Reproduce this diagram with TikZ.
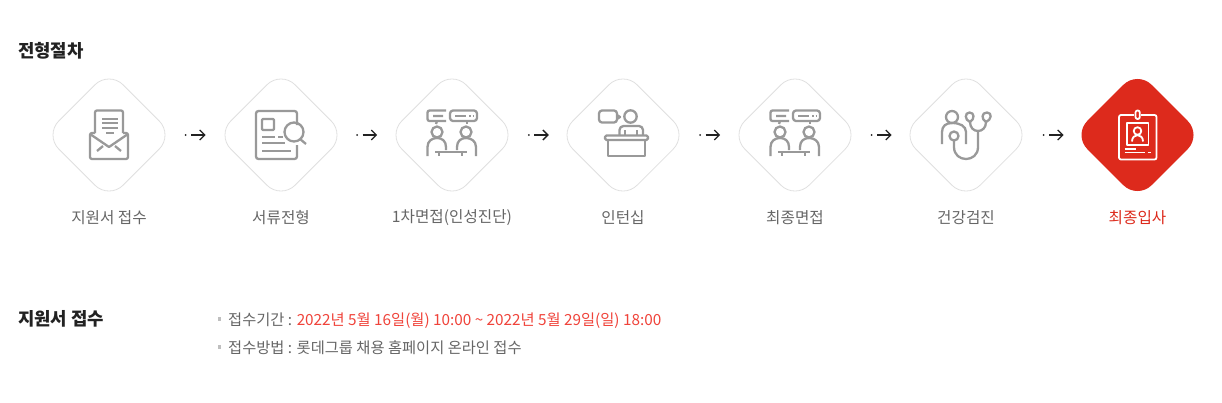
\documentclass[tikz,border=0pt]{standalone}
\usepackage{fontspec}
\setmainfont{Noto Sans CJK KR}
\usetikzlibrary{arrows.meta,calc}
\definecolor{icgray}{HTML}{999999}
\definecolor{lbl}{HTML}{666666}
\definecolor{ink}{HTML}{222222}
\definecolor{lotte}{HTML}{DD2A1C}
\definecolor{datered}{HTML}{F0433A}
\newcommand{\fs}[1]{\fontsize{#1}{#1}\selectfont}
\tikzset{
  x=1pt,y=-1pt,
  dia/.style={draw=#1,line width=0.8pt,rounded corners=20pt},
  ic/.style={draw=icgray,line width=2.3pt,line cap=butt,line join=round},
  icw/.style={draw=white,line width=1.8pt,line join=round},
  lab/.style={text=lbl,anchor=center,inner sep=0pt,font=\fs{15.65}},
  ttl/.style={text=ink,anchor=base west,inner sep=0pt,font=\fs{17.8}\bfseries},
  body/.style={anchor=base west,inner sep=0pt,font=\fs{15.3},text=lbl},
  arr/.style={draw=ink,line width=1.3pt,-{Straight Barb[length=5pt,width=10pt,line width=1.3pt]}},
  dotn/.style={circle,fill=ink,inner sep=0pt,minimum size=2pt},
  bul/.style={fill=black!25,inner sep=0pt,minimum size=3.5pt},
  pics/mail/.style={code={
    \draw[ic,rounded corners=2pt] (-14,-2) -- (-14,-24.5) -- (14,-24.5) -- (14,-2);
    \draw[ic] (-7,-16) -- (9,-16) (-7,-12) -- (9,-12) (-7,-7) -- (9,-7) (-3,-2) -- (5,-2);
    \draw[ic,rounded corners=2pt] (-14,-2) -- (-19,-2) -- (-19,24) -- (19,24) -- (19,-2) -- (14,-2);
    \draw[ic] (-19,-1) -- (0,12) -- (19,-1);
    \draw[ic] (-12,16) -- (-6,11) (12,16) -- (6,11);
  }},
  pics/doc/.style={code={
    \draw[ic,rounded corners=2.5pt] (16,-10) -- (16,-24) -- (-25,-24) -- (-25,24) -- (16,24) -- (16,10);
    \draw[ic,rounded corners=1pt] (-19,-16) rectangle (-7,-5);
    \draw[ic] (-19,2) -- (-6,2) (-3,2) -- (2,2) (-19,8) -- (4,8) (-19,16) -- (10,16);
    \draw[ic] (13,-3) circle[radius=9.5pt];
    \draw[ic] (19,4) -- (25,9);
  }},
  pics/talk/.style={code={
    \draw[ic,rounded corners=2pt] (-6,-24.5) -- (-24.5,-24.5) -- (-24.5,-14) -- (-6,-14);
    \draw[ic] (-19,-19) -- (-9,-19) (-15,-14) -- (-16,-11);
    \draw[ic,rounded corners=3pt] (-2,-24.5) rectangle (25,-14);
    \draw[ic] (3,-19) -- (14,-19) (17,-19) -- (18.5,-19) (20.5,-19) -- (22,-19) (15,-14) -- (15,-11);
    \draw[ic] (-15,-3) circle[radius=5.5pt] (14,-3) circle[radius=5.5pt];
    \draw[ic] (-24.5,21) -- (-24.5,12) .. controls (-24.5,6) and (-20,3) .. (-15,3) .. controls (-10,3) and (-6,6) .. (-6,12) -- (-6,15);
    \draw[ic] (24,21) -- (24,12) .. controls (24,6) and (19,3) .. (14,3) .. controls (9,3) and (5,6) .. (5,12) -- (5,15);
    \draw[ic] (-17,17) -- (15,17) (-13,17) -- (-13,21) (10,17) -- (10,21);
  }},
  pics/desk/.style={code={
    \draw[ic,rounded corners=3pt] (-24,-24.5) rectangle (-6,-12.5);
    \draw[ic] (-6,-20) -- (-3,-18) -- (-6,-16);
    \draw[ic] (7.5,-18.5) circle[radius=6.2pt];
    \draw[ic,rounded corners=4pt] (-3.5,0) -- (-3.5,-9) -- (20,-9) -- (20,0);
    \draw[ic] (2,-5) -- (2,0) (14,-5) -- (14,0);
    \draw[ic,rounded corners=1.5pt] (-18,0.5) rectangle (25,5);
    \draw[ic] (-15,5) -- (-15,21) -- (22,21) -- (22,5);
  }},
  pics/steth/.style={code={
    \draw[ic] (-14,-18) circle[radius=6pt];
    \draw[ic] (-24,9) -- (-24,-3) .. controls (-24,-9) and (-20,-12) .. (-14,-12) .. controls (-6,-12) and (0,-9) .. (0,-3) -- (0,9);
    \draw[ic] (-12,1) circle[radius=4.5pt];
    \draw[ic] (-12,5.5) -- (-12,12) .. controls (-12,28) and (12,28) .. (12,12) -- (12,-4);
    \draw[ic] (4,-13) .. controls (4,-7) and (8,-4) .. (12,-4) .. controls (16,-4) and (20,-7) .. (20,-13);
    \draw[ic] (4,-13) .. controls (-1.5,-15) and (-1.5,-22.5) .. (3.5,-22.5) .. controls (8.5,-22.5) and (9,-16) .. (4,-13);
    \draw[ic] (20,-13) .. controls (15,-16) and (15.5,-22.5) .. (21,-22.5) .. controls (26.5,-22.5) and (25.5,-15) .. (20,-13);
  }},
  pics/badge/.style={code={
    \draw[icw,rounded corners=2pt] (-18.5,-20) rectangle (19,24.5);
    \fill[lotte] (-3.5,-25.5) rectangle (3.5,-15);
    \draw[icw,rounded corners=2pt] (-2,-24.5) rectangle (2.3,-16);
    \draw[icw] (-10.5,-12) rectangle (11,10);
    \draw[icw] (0,-4) circle[radius=3.8pt];
    \draw[icw] (-5.5,6.5) .. controls (-5.5,-2) and (5.5,-2) .. (5.5,6.5);
    \draw[icw] (-13,14) -- (-2,14) (-13,17.5) -- (7,17.5) (10,17.5) -- (13,17.5);
  }},
}
\newcommand{\diam}[3]{%
  \coordinate (#1) at (#2,135);
  \path[#3] ($(#1)+(0,-64.3)$) -- ($(#1)+(64.3,0)$) -- ($(#1)+(0,64.3)$) -- ($(#1)+(-64.3,0)$) -- cycle;
}
\begin{document}
\begin{tikzpicture}
\useasboundingbox (0,0) rectangle (1222,402);
\fill[white] (0,0) rectangle (1222,402);

\node[ttl] (title) at (18,57) {전형절차};

\diam{d1}{109}{dia=black!12}
\diam{d2}{281}{dia=black!12}
\diam{d3}{452}{dia=black!12}
\diam{d4}{623}{dia=black!12}
\diam{d5}{795}{dia=black!12}
\diam{d6}{966}{dia=black!12}
\diam{d7}{1137.5}{fill=lotte,rounded corners=20pt}

\pic at (d1) {mail};
\pic at (d2) {doc};
\pic at (d3) {talk};
\pic at (d4) {desk};
\pic at (d5) {talk};
\pic at (d6) {steth};
\pic at (d7) {badge};

\foreach \i/\x in {1/185.6,2/357.2,3/528.8,4/700.2,5/871.7,6/1043.6}{
  \node[dotn] (p\i) at (\x,135) {};
  \coordinate (q\i) at ($(p\i)+(20,0)$);
  \draw[arr] ($(p\i)+(5.5,0)$) -- (q\i);
}

\node[lab] (l1) at (109,218) {지원서 접수};
\node[lab] (l2) at (281,218) {서류전형};
\node[lab] (l3) at (452,218) {1차면접(인성진단)};
\node[lab] (l4) at (623,218) {인턴십};
\node[lab] (l5) at (795,218) {최종면접};
\node[lab] (l6) at (966,218) {건강검진};
\node[lab,text=lotte] (l7) at (1137.5,218) {최종입사};

\node[ttl] (sub) at (18,325) {지원서 접수};
\node[bul] (b1) at (219.5,319) {};
\node[bul] (b2) at (219.5,347) {};
\node[body] (t1) at (228,325) {접수기간 : \textcolor{datered}{2022년 5월 16일(월) 10:00 \textasciitilde{} 2022년 5월 29일(일) 18:00}};
\node[body] (t2) at (228,353) {접수방법 : 롯데그룹 채용 홈페이지 온라인 접수};
\end{tikzpicture}
\end{document}
